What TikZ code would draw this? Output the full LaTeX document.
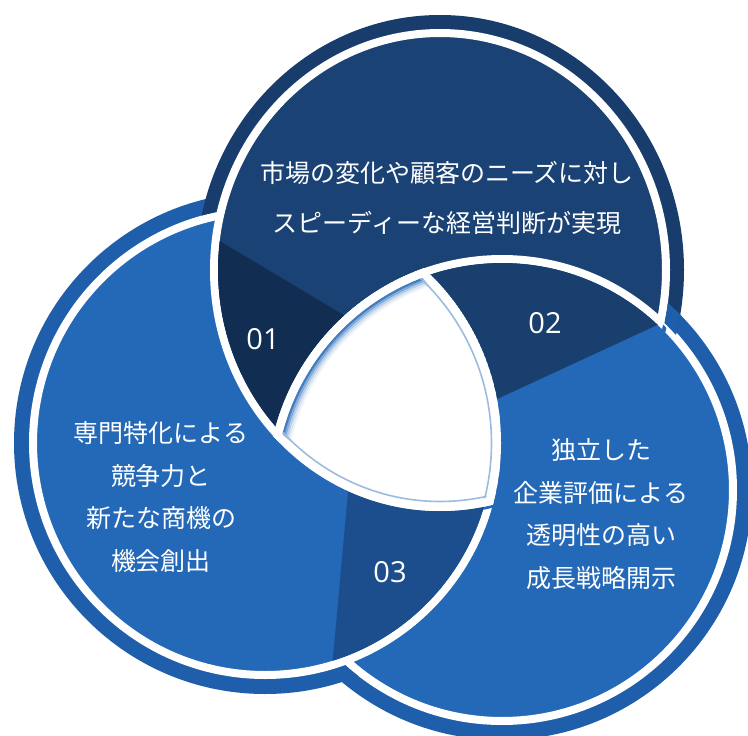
\documentclass[tikz,border=0pt]{standalone}
\usepackage{fontspec}
\newfontfamily\jpfont{Noto Sans CJK JP}
\newfontfamily\numfont{Open Sans}
\definecolor{Tfill}{RGB}{27,66,116}
\definecolor{Tband}{RGB}{24,61,108}
\definecolor{Bfill}{RGB}{36,104,184}
\definecolor{Bband}{RGB}{31,94,170}
\definecolor{regA}{RGB}{18,45,82}
\definecolor{regB}{RGB}{25,63,110}
\definecolor{regC}{RGB}{28,78,142}
\begin{document}
\begin{tikzpicture}[x=1pt,y=-1pt]
\tikzset{
  ringline/.style={draw=white, line width=8pt},
  bodytext/.style={text=white, font=\jpfont\fontsize{25}{42.5}\selectfont, align=center, inner sep=0pt},
  numtext/.style={text=white, font=\numfont\fontsize{29}{32}\selectfont, inner sep=0pt},
  glowline/.style={draw=Bfill, line width=2.2pt},
  faintline/.style={draw=Bfill!45, line width=1.6pt}
}
\fill[white] (0,0) rectangle (748,736);
\useasboundingbox (0,0) rectangle (748,736);
\coordinate (cT) at (440,270);
\coordinate (cL) at (265,443);
\coordinate (cR) at (502,490);

% 1. right circle
\fill[Bband, even odd rule] (cR) circle[radius=250pt] (cR) circle[radius=233pt];
\fill[Bfill] (cR) circle[radius=231pt];
\draw[ringline] (cR) circle[radius=231pt];

% 2. left circle (over right)
\begin{scope}[even odd rule]
  \clip (-50,-50) rectangle (800,800) (cR) circle[radius=235pt];
  \fill[Bband, even odd rule] (cL) circle[radius=251pt] (cL) circle[radius=234pt];
\end{scope}
\fill[Bfill] (cL) circle[radius=232pt];
\draw[ringline] (cL) circle[radius=232pt];

% 3. top circle (over left)
\begin{scope}[even odd rule]
  \clip (-50,-50) rectangle (800,800) (cL) circle[radius=236pt];
  \begin{scope}[even odd rule]
    \clip (-50,-50) rectangle (800,800) (cR) circle[radius=235pt];
    \fill[Tband, even odd rule] (cT) ellipse[x radius=244pt, y radius=255pt]
                                (cT) ellipse[x radius=228pt, y radius=239pt];
  \end{scope}
\end{scope}
\fill[Tfill] (cT) ellipse[x radius=226pt, y radius=237pt];
\draw[ringline] (cT) ellipse[x radius=226pt, y radius=237pt];

% 4. right circle again (over top)
\begin{scope}
  \clip (cT) ellipse[x radius=244pt, y radius=255pt];
  \clip (560,0) rectangle (760,760);
  \begin{scope}[even odd rule]
    \clip (-50,-50) rectangle (800,800) (cT) ellipse[x radius=230pt, y radius=241pt];
    \fill[Bband, even odd rule] (cR) circle[radius=250pt] (cR) circle[radius=233pt];
  \end{scope}
\end{scope}
\begin{scope}
  \clip (cT) ellipse[x radius=233pt, y radius=244pt];
  \fill[Bfill] (cR) circle[radius=231pt];
\end{scope}
\begin{scope}
  \clip (cT) ellipse[x radius=229pt, y radius=240pt];
  \draw[ringline] (cR) circle[radius=231pt];
\end{scope}

% 5. darker overlap regions
\begin{scope}
  \clip (cT) ellipse[x radius=222pt, y radius=233pt];
  \fill[regA] (150,199.4) -- (360,324.8) -- (360,560) -- (150,560) -- cycle;
\end{scope}
\begin{scope}
  \clip (cR) circle[radius=227pt];
  \fill[regB] (430,430) -- (720,296) -- (720,200) -- (430,200) -- cycle;
\end{scope}
\begin{scope}
  \clip (cL) circle[radius=228pt];
  \fill[regC] (351.8,450) -- (327.3,720) -- (560,720) -- (560,450) -- cycle;
\end{scope}

% 6. white centre with inner glow
\begin{scope}
  \clip (cT) ellipse[x radius=230pt, y radius=241pt];
  \clip (cL) circle[radius=236pt];
  \clip (cR) circle[radius=235pt];
  \fill[white] (0,0) rectangle (748,736);
  \draw[glowline, opacity=0.85] (cR) circle[radius=225.5pt];
  \draw[glowline, opacity=0.55] (cR) circle[radius=223.5pt];
  \draw[glowline, opacity=0.32] (cR) circle[radius=221.5pt];
  \draw[glowline, opacity=0.16] (cR) circle[radius=219.5pt];
  \draw[glowline, opacity=0.07] (cR) circle[radius=217.5pt];
  \draw[faintline] (cT) ellipse[x radius=220.5pt, y radius=231.5pt];
  \draw[faintline] (cL) circle[radius=226.5pt];
  \draw[white, line width=8pt] (cR) circle[radius=231pt];
  \draw[white, line width=8pt] (cT) ellipse[x radius=226pt, y radius=237pt];
  \draw[white, line width=8pt] (cL) circle[radius=232pt];
\end{scope}

% 7. texts
\node[bodytext, font=\jpfont\fontsize{25}{50}\selectfont] (tT) at (447,198)
  {市場の変化や顧客のニーズに対し\\スピーディーな経営判断が実現};
\node[bodytext] (tL) at (161,497)
  {専門特化による\\競争力と\\新たな商機の\\機会創出};
\node[bodytext] (tR) at (601,514)
  {独立した\\企業評価による\\透明性の高い\\成長戦略開示};
\node[numtext] (n1) at (263,339) {01};
\node[numtext] (n2) at (545,323) {02};
\node[numtext] (n3) at (390,572) {03};
\end{tikzpicture}
\end{document}
